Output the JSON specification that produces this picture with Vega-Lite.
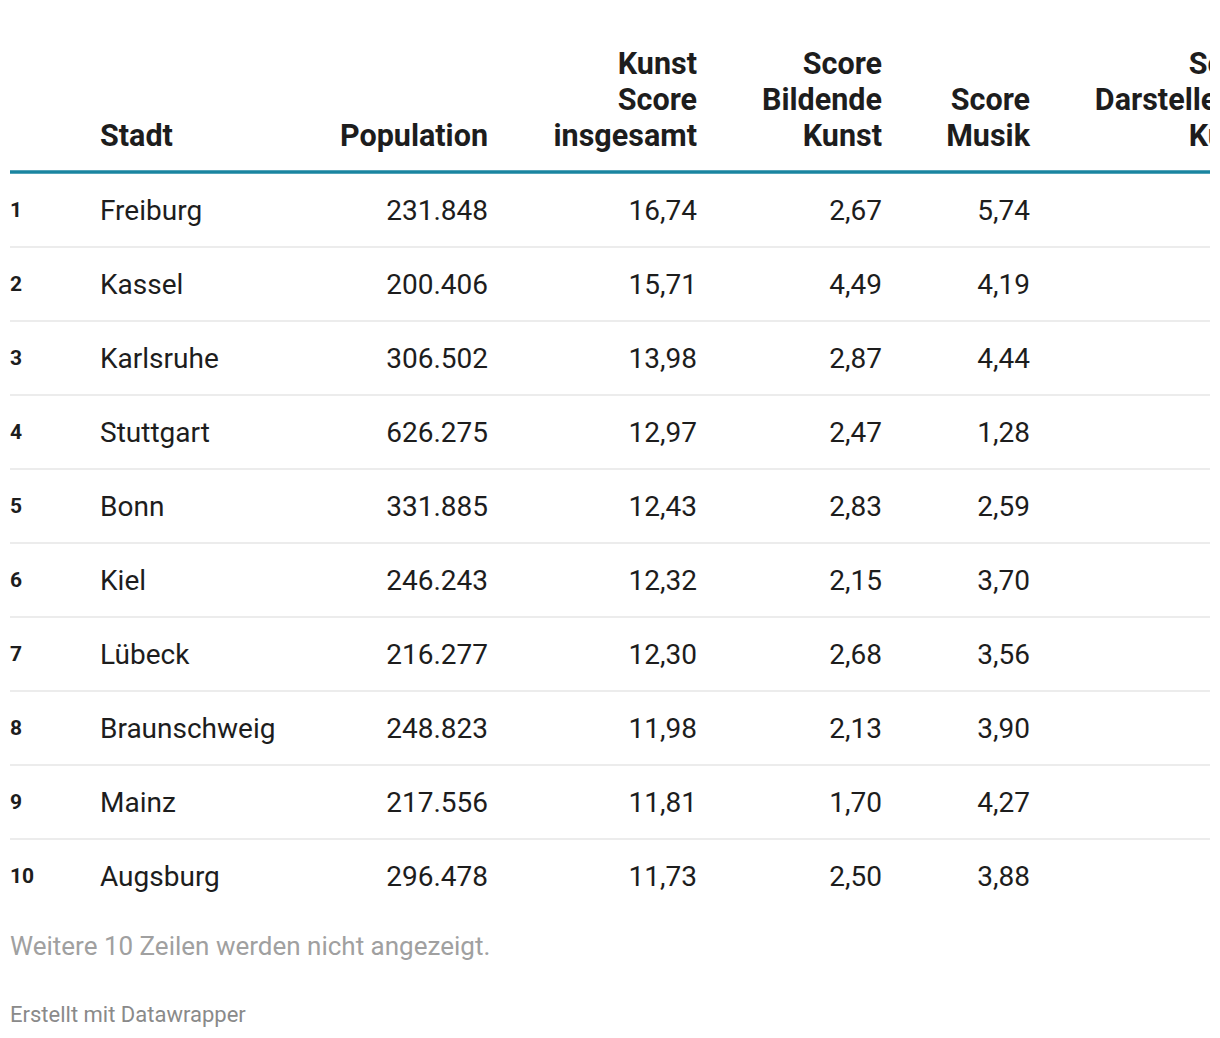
{
  "$schema": "https://vega.github.io/schema/vega-lite/v6.json",
  "width": 1220,
  "height": 1038,
  "autosize": {"type": "fit", "contains": "padding"},
  "padding": {"left": 8, "right": 8, "top": 0, "bottom": 0},
  "background": "white",
  "config": {
    "view": {"stroke": null},
    "axis": {"disable": true},
    "font": "Roboto",
    "locale": {"number": {"decimal": ",", "thousands": ".", "grouping": [3], "currency": ["", " €"]}}
  },
  "datasets": {
    "staedte": [
      {"rang": 1, "stadt": "Freiburg", "population": 231848, "kunst": 16.74, "bildend": 2.67, "musik": 5.74},
      {"rang": 2, "stadt": "Kassel", "population": 200406, "kunst": 15.71, "bildend": 4.49, "musik": 4.19},
      {"rang": 3, "stadt": "Karlsruhe", "population": 306502, "kunst": 13.98, "bildend": 2.87, "musik": 4.44},
      {"rang": 4, "stadt": "Stuttgart", "population": 626275, "kunst": 12.97, "bildend": 2.47, "musik": 1.28},
      {"rang": 5, "stadt": "Bonn", "population": 331885, "kunst": 12.43, "bildend": 2.83, "musik": 2.59},
      {"rang": 6, "stadt": "Kiel", "population": 246243, "kunst": 12.32, "bildend": 2.15, "musik": 3.70},
      {"rang": 7, "stadt": "Lübeck", "population": 216277, "kunst": 12.30, "bildend": 2.68, "musik": 3.56},
      {"rang": 8, "stadt": "Braunschweig", "population": 248823, "kunst": 11.98, "bildend": 2.13, "musik": 3.90},
      {"rang": 9, "stadt": "Mainz", "population": 217556, "kunst": 11.81, "bildend": 1.70, "musik": 4.27},
      {"rang": 10, "stadt": "Augsburg", "population": 296478, "kunst": 11.73, "bildend": 2.50, "musik": 3.88}
    ],
    "kopf": [
      {"spalte": 1, "titel": "Stadt", "zeilen": 1},
      {"spalte": 2, "titel": "Population", "zeilen": 1},
      {"spalte": 3, "titel": "Kunst\nScore\ninsgesamt", "zeilen": 3},
      {"spalte": 4, "titel": "Score\nBildende\nKunst", "zeilen": 3},
      {"spalte": 5, "titel": "Score\nMusik", "zeilen": 2},
      {"spalte": 6, "titel": "Score\nDarstellende\nKunst", "zeilen": 3}
    ]
  },
  "layer": [
    {
      "data": {"name": "staedte"},
      "transform": [{"filter": "datum.rang < 10"}],
      "mark": {"type": "rule", "stroke": "#ececec", "strokeWidth": 2},
      "encoding": {
        "y": {"field": "rang", "type": "quantitative", "scale": {"domain": [1, 10], "range": [210, 876], "zero": false, "nice": false}, "axis": null},
        "yOffset": {"value": 37}
      }
    },
    {
      "data": {"values": [{"linie": "kopf"}]},
      "mark": {"type": "rule", "stroke": "#1a85a0", "strokeWidth": 3.5},
      "encoding": {
        "y": {"datum": 0, "type": "quantitative", "axis": null},
        "yOffset": {"value": 36}
      }
    },
    {
      "data": {"name": "staedte"},
      "mark": {"type": "text", "align": "left", "baseline": "middle", "fontSize": 21, "fontWeight": "bold", "color": "#1d1d1d", "dy": 1},
      "encoding": {
        "x": {"datum": 0, "type": "quantitative", "scale": {"domain": [0, 1, 2, 3, 4, 5, 6], "range": [0, 90, 478, 687, 872, 1020, 1258], "zero": false, "nice": false}, "axis": null},
        "y": {"field": "rang", "type": "quantitative", "axis": null},
        "text": {"field": "rang", "type": "quantitative"}
      }
    },
    {
      "data": {"name": "staedte"},
      "mark": {"type": "text", "align": "left", "baseline": "middle", "fontSize": 28, "color": "#1d1d1d", "dy": 2},
      "encoding": {
        "x": {"datum": 1, "type": "quantitative", "axis": null},
        "y": {"field": "rang", "type": "quantitative", "axis": null},
        "text": {"field": "stadt", "type": "nominal"}
      }
    },
    {
      "data": {"name": "staedte"},
      "mark": {"type": "text", "align": "right", "baseline": "middle", "fontSize": 28, "color": "#1d1d1d", "dy": 2},
      "encoding": {
        "x": {"datum": 2, "type": "quantitative", "axis": null},
        "y": {"field": "rang", "type": "quantitative", "axis": null},
        "text": {"field": "population", "type": "quantitative", "format": ",.0f"}
      }
    },
    {
      "data": {"name": "staedte"},
      "mark": {"type": "text", "align": "right", "baseline": "middle", "fontSize": 28, "color": "#1d1d1d", "dy": 2},
      "encoding": {
        "x": {"datum": 3, "type": "quantitative", "axis": null},
        "y": {"field": "rang", "type": "quantitative", "axis": null},
        "text": {"field": "kunst", "type": "quantitative", "format": ".2f"}
      }
    },
    {
      "data": {"name": "staedte"},
      "mark": {"type": "text", "align": "right", "baseline": "middle", "fontSize": 28, "color": "#1d1d1d", "dy": 2},
      "encoding": {
        "x": {"datum": 4, "type": "quantitative", "axis": null},
        "y": {"field": "rang", "type": "quantitative", "axis": null},
        "text": {"field": "bildend", "type": "quantitative", "format": ".2f"}
      }
    },
    {
      "data": {"name": "staedte"},
      "mark": {"type": "text", "align": "right", "baseline": "middle", "fontSize": 28, "color": "#1d1d1d", "dy": 2},
      "encoding": {
        "x": {"datum": 5, "type": "quantitative", "axis": null},
        "y": {"field": "rang", "type": "quantitative", "axis": null},
        "text": {"field": "musik", "type": "quantitative", "format": ".2f"}
      }
    },
    {
      "data": {"name": "kopf"},
      "transform": [{"filter": "datum.spalte == 1"}],
      "mark": {"type": "text", "align": "left", "baseline": "bottom", "lineBreak": "\n", "lineHeight": 36, "fontSize": 30.5, "fontWeight": "bold", "color": "#1d1d1d", "dy": 16, "clip": true},
      "encoding": {
        "x": {"field": "spalte", "type": "quantitative", "axis": null},
        "y": {"datum": 0, "type": "quantitative", "axis": null},
        "text": {"field": "titel", "type": "nominal"}
      }
    },
    {
      "data": {"name": "kopf"},
      "transform": [{"filter": "datum.spalte > 1 && datum.zeilen == 1"}],
      "mark": {"type": "text", "align": "right", "baseline": "bottom", "lineBreak": "\n", "lineHeight": 36, "fontSize": 30.5, "fontWeight": "bold", "color": "#1d1d1d", "dy": 16, "clip": true},
      "encoding": {
        "x": {"field": "spalte", "type": "quantitative", "axis": null},
        "y": {"datum": 0, "type": "quantitative", "axis": null},
        "text": {"field": "titel", "type": "nominal"}
      }
    },
    {
      "data": {"name": "kopf"},
      "transform": [{"filter": "datum.zeilen == 2"}],
      "mark": {"type": "text", "align": "right", "baseline": "bottom", "lineBreak": "\n", "lineHeight": 36, "fontSize": 30.5, "fontWeight": "bold", "color": "#1d1d1d", "dy": -20, "clip": true},
      "encoding": {
        "x": {"field": "spalte", "type": "quantitative", "axis": null},
        "y": {"datum": 0, "type": "quantitative", "axis": null},
        "text": {"field": "titel", "type": "nominal"}
      }
    },
    {
      "data": {"name": "kopf"},
      "transform": [{"filter": "datum.zeilen == 3"}],
      "mark": {"type": "text", "align": "right", "baseline": "bottom", "lineBreak": "\n", "lineHeight": 36, "fontSize": 30.5, "fontWeight": "bold", "color": "#1d1d1d", "dy": -56, "clip": true},
      "encoding": {
        "x": {"field": "spalte", "type": "quantitative", "axis": null},
        "y": {"datum": 0, "type": "quantitative", "axis": null},
        "text": {"field": "titel", "type": "nominal"}
      }
    },
    {
      "data": {"values": [{"hinweis": "Weitere 10 Zeilen werden nicht angezeigt."}]},
      "mark": {"type": "text", "align": "left", "baseline": "middle", "fontSize": 26, "color": "#a0a0a0", "dy": -3},
      "encoding": {
        "x": {"datum": 0, "type": "quantitative", "axis": null},
        "y": {"datum": 11, "type": "quantitative", "axis": null},
        "text": {"field": "hinweis", "type": "nominal"}
      }
    },
    {
      "data": {"values": [{"quelle": "Erstellt mit Datawrapper"}]},
      "mark": {"type": "text", "align": "left", "baseline": "middle", "fontSize": 22, "color": "#8a8a8a", "dy": -9},
      "encoding": {
        "x": {"datum": 0, "type": "quantitative", "axis": null},
        "y": {"datum": 12, "type": "quantitative", "axis": null},
        "text": {"field": "quelle", "type": "nominal"}
      }
    }
  ]
}
